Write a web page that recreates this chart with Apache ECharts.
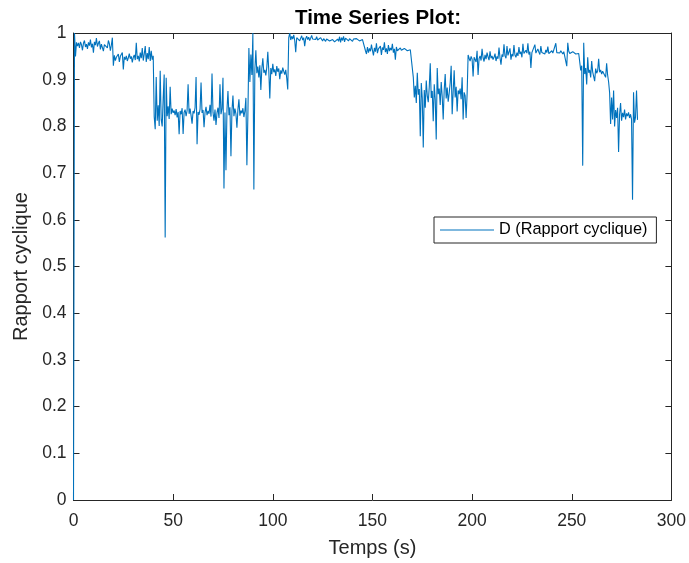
<!DOCTYPE html>
<html>
<head>
<meta charset="utf-8">
<script src="https://cdn.jsdelivr.net/npm/echarts@6/dist/echarts.min.js"></script>
<style>
  html, body { margin: 0; padding: 0; background: #fff; }
  #chart { width: 689px; height: 563px; }
</style>
</head>
<body>
<div id="chart"></div>
<script>
// Sampling period of the logged duty cycle (s)
const sampleStep = 0.5;

// Duty cycle D, one value per sample, grouped by operating phase
const phaseStart = [0, 1, 0.95, 0.98, 0.972, 0.979, 0.968, 0.981, 0.975, 0.963, 0.978, 0.984, 0.970, 0.976, 0.966, 0.980, 0.973, 0.986, 0.969, 0.977, 0.958, 0.981, 0.974, 0.989, 0.971, 0.978, 0.983, 0.965, 0.976, 0.980, 0.961, 0.975, 0.979, 0.972, 0.968, 0.984, 0.977, 0.962, 0.974, 0.990];
const phaseHigh1 = [0.930, 0.952, 0.941, 0.948, 0.944, 0.955, 0.938, 0.950, 0.946, 0.958, 0.922, 0.949, 0.943, 0.951, 0.940, 0.947, 0.956, 0.945, 0.950, 0.937, 0.948, 0.953, 0.942, 0.979, 0.944, 0.951, 0.939, 0.958, 0.946, 0.968, 0.941, 0.955, 0.972, 0.938, 0.957, 0.944, 0.970, 0.940, 0.962, 0.943, 0.951];
const phaseLow1 = [0.820, 0.794, 0.906, 0.812, 0.845, 0.801, 0.919, 0.815, 0.800, 0.860, 0.911, 0.562, 0.904, 0.822, 0.843, 0.816, 0.885, 0.826, 0.838, 0.829, 0.834, 0.824, 0.837, 0.819, 0.831, 0.783, 0.833, 0.826, 0.839, 0.784, 0.830, 0.836, 0.822, 0.834, 0.890, 0.827, 0.838, 0.823, 0.806, 0.833, 0.828, 0.840, 0.906, 0.762, 0.831, 0.825, 0.837, 0.894, 0.829, 0.835, 0.798, 0.830, 0.842, 0.824, 0.833, 0.827, 0.846, 0.821, 0.913, 0.830, 0.812, 0.836, 0.803, 0.829, 0.840, 0.818, 0.890, 0.826, 0.838, 0.904, 0.667, 0.830, 0.706, 0.835, 0.876, 0.824, 0.841, 0.736, 0.833, 0.866, 0.822, 0.838, 0.827, 0.797, 0.836, 0.858, 0.823, 0.834, 0.828, 0.839, 0.820, 0.833, 0.861, 0.717, 0.825, 0.968];
const phaseMid1 = [0.895, 0.954, 0.910, 1.000, 0.665, 0.922, 0.963, 0.914, 0.928, 0.905, 0.931, 0.878, 0.924, 0.946, 0.915, 0.921, 0.909, 0.927, 0.960, 0.918, 0.860, 0.925, 0.912, 0.934, 0.916, 0.922, 0.908, 0.929, 0.917, 0.924, 0.901, 0.920, 0.913, 0.926, 0.918, 0.911, 0.921, 0.903, 0.879];
const phaseTop = [0.990, 1.000, 0.985, 0.993, 0.987, 0.996, 0.984, 0.959, 0.990, 0.986, 0.992, 0.983, 0.989, 0.994, 0.985, 0.990, 0.972, 0.988, 0.993, 0.986, 0.991, 0.984, 0.989, 0.995, 0.987, 0.983, 0.990, 0.986, 0.992, 0.985, 0.988, 0.984, 0.990, 0.986, 0.983, 0.988, 0.985, 0.982, 0.987, 0.984, 0.986, 0.983, 0.985, 0.982, 0.986, 0.984, 0.981, 0.985, 0.983, 0.987, 0.982, 0.992, 0.980, 0.990, 0.984, 0.993, 0.981, 0.989, 0.985, 0.991, 0.983, 0.988, 0.984, 0.986, 0.982, 0.987, 0.985, 0.983, 0.988, 0.984, 0.986, 0.983, 0.985, 0.982, 0.986, 0.984, 0.983];
const phaseHigh2 = [0.962, 0.955, 0.970, 0.958, 0.967, 0.961, 0.975, 0.963, 0.952, 0.968, 0.960, 0.978, 0.957, 0.966, 0.962, 0.972, 0.953, 0.969, 0.964, 0.980, 0.959, 0.967, 0.955, 0.974, 0.961, 0.968, 0.963, 0.977, 0.958, 0.966, 0.943, 0.970, 0.962, 0.965, 0.960, 0.968, 0.963, 0.966, 0.961, 0.967, 0.963, 0.965, 0.962, 0.966, 0.960, 0.964, 0.961, 0.963];
const phaseLow2 = [0.905, 0.862, 0.887, 0.850, 0.915, 0.868, 0.880, 0.779, 0.893, 0.860, 0.755, 0.878, 0.840, 0.898, 0.866, 0.852, 0.884, 0.935, 0.861, 0.876, 0.811, 0.890, 0.858, 0.772, 0.925, 0.869, 0.881, 0.846, 0.895, 0.864, 0.815, 0.878, 0.912, 0.860, 0.883, 0.853, 0.871, 0.893, 0.930, 0.826, 0.874, 0.920, 0.862, 0.885, 0.832, 0.877, 0.869, 0.881, 0.858, 0.905, 0.815, 0.873, 0.866, 0.818, 0.870];
const phaseHigh3 = [0.953, 0.946, 0.940, 0.950, 0.944, 0.907, 0.948, 0.952, 0.938, 0.962, 0.910, 0.945, 0.951, 0.941, 0.966, 0.947, 0.939, 0.953, 0.944, 0.958, 0.949, 0.942, 0.961, 0.946, 0.951, 0.943, 0.948, 0.956, 0.940, 0.950, 0.945, 0.969, 0.947, 0.932, 0.954, 0.949, 0.976, 0.951, 0.946, 0.972, 0.952, 0.948, 0.967, 0.943, 0.955, 0.950, 0.974, 0.953, 0.948, 0.958, 0.951, 0.970, 0.955, 0.960, 0.948, 0.977, 0.956, 0.952, 0.963, 0.957, 0.978, 0.954, 0.960, 0.925, 0.958, 0.962, 0.955, 0.975, 0.957, 0.953, 0.966, 0.959, 0.954, 0.972, 0.958, 0.956, 0.961, 0.955, 0.964, 0.958, 0.971, 0.956, 0.960, 0.954, 0.962, 0.957, 0.959, 0.955, 0.978, 0.958, 0.956, 0.960, 0.957, 0.962, 0.958, 0.955, 0.960, 0.957, 0.959, 0.929, 0.979, 0.961, 0.956, 0.959, 0.957, 0.960, 0.956, 0.958, 0.955, 0.959, 0.957, 0.956, 0.958, 0.920];
const phaseMid2 = [0.930, 0.716, 0.979, 0.912, 0.925, 0.890, 0.948, 0.915, 0.921, 0.905, 0.940, 0.917, 0.920, 0.897, 0.924, 0.914, 0.919, 0.945, 0.916, 0.921, 0.912, 0.918, 0.915, 0.920, 0.905, 0.935, 0.910, 0.895, 0.872];
const phaseLow3 = [0.805, 0.862, 0.815, 0.877, 0.800, 0.835, 0.818, 0.840, 0.745, 0.826, 0.850, 0.812, 0.829, 0.820, 0.836, 0.815, 0.828, 0.822, 0.830, 0.818, 0.826, 0.815, 0.643, 0.873, 0.808, 0.820, 0.877, 0.814];

const dutyCycle = [].concat(phaseStart, phaseHigh1, phaseLow1, phaseMid1, phaseTop,
  phaseHigh2, phaseLow2, phaseHigh3, phaseMid2, phaseLow3);

const xTicks = { min: 0, max: 300, step: 50 };
const yTicks = { min: 0, max: 1, step: 0.1 };

const seriesName = 'D (Rapport cyclique)';
const points = dutyCycle.map((d, i) => [i * sampleStep, d]);

const ink = '#262626';
const font = 'Liberation Sans, Arial, Helvetica, sans-serif';

const boxAxis = (pos, isX, showLabel) => ({
  type: 'value',
  position: pos,
  min: isX ? xTicks.min : yTicks.min,
  max: isX ? xTicks.max : yTicks.max,
  interval: isX ? xTicks.step : yTicks.step,
  axisLine: { show: true, onZero: false, lineStyle: { color: ink, width: 1 } },
  axisTick: { show: true, inside: true, length: 6, lineStyle: { color: ink, width: 1 } },
  axisLabel: {
    show: showLabel,
    color: ink,
    fontFamily: font,
    fontSize: 17.5,
    margin: isX ? 12 : 7,
    formatter: v => String(Math.round(v * 10) / 10)
  },
  splitLine: { show: false }
});

const chart = echarts.init(document.getElementById('chart'), null, { renderer: 'canvas' });

const xMain = Object.assign(boxAxis('bottom', true, true), {
  name: 'Temps (s)', nameLocation: 'middle', nameGap: 38,
  nameTextStyle: { color: ink, fontFamily: font, fontSize: 20 }
});
const yMain = Object.assign(boxAxis('left', false, true), {
  name: 'Rapport cyclique', nameLocation: 'middle', nameGap: 34,
  nameTextStyle: { color: ink, fontFamily: font, fontSize: 20 }
});

chart.setOption({
  backgroundColor: '#ffffff',
  animation: false,
  title: {
    text: 'Time Series Plot:',
    left: 373,
    textAlign: 'center',
    top: 3,
    textStyle: { color: '#000', fontFamily: font, fontSize: 20.5, fontWeight: 'bold' }
  },
  grid: { left: 73.5, right: 17, top: 33, bottom: 60, containLabel: false },
  xAxis: [xMain, boxAxis('top', true, false)],
  yAxis: [yMain, boxAxis('right', false, false)],
  legend: {
    data: [{ name: seriesName, icon: 'rect' }],
    left: 434,
    top: 217,
    orient: 'vertical',
    itemWidth: 54,
    itemHeight: 1,
    itemGap: 0,
    padding: [5, 9, 5, 6],
    backgroundColor: '#ffffff',
    borderColor: ink,
    borderWidth: 1,
    borderRadius: 0,
    textStyle: { color: '#000', fontFamily: font, fontSize: 16.3, padding: [0, 0, 0, 0] }
  },
  series: [{
    name: seriesName,
    type: 'line',
    xAxisIndex: 0,
    yAxisIndex: 0,
    data: points,
    showSymbol: false,
    symbol: 'none',
    color: '#0072BD',
    lineStyle: { color: '#0072BD', width: 1.1 }
  }]
});
</script>
</body>
</html>
